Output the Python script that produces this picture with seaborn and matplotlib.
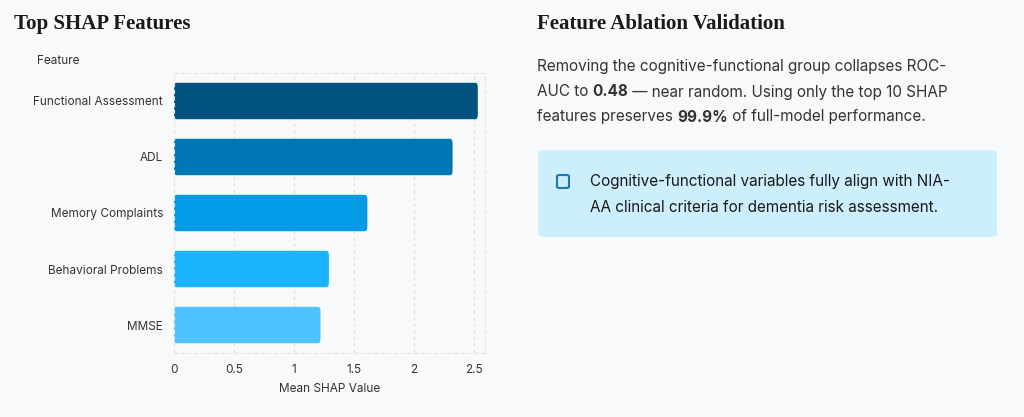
import seaborn as sns
import matplotlib.pyplot as plt
import pandas as pd
from matplotlib.patches import FancyBboxPatch

features = ["Functional Assessment", "ADL", "Memory Complaints", "Behavioral Problems", "MMSE"]
shap_values = [2.53, 2.32, 1.61, 1.29, 1.22]
bar_colors = ["#01537f", "#0077b5", "#039be5", "#1ab4fd", "#4fc3fe"]
ticks = [0, 0.5, 1, 1.5, 2, 2.5]
tick_labels = ["0", "0.5", "1", "1.5", "2", "2.5"]

df = pd.DataFrame({"Feature": features, "Mean SHAP Value": shap_values})

sns.set_style("white")
plt.rcParams["font.family"] = ["Inter", "DejaVu Sans"]

bg = "#f7f9fb"
fig = plt.figure(figsize=(10.24, 4.17), dpi=100, facecolor=bg)
ax = fig.add_axes([174 / 1024, 1 - 353 / 417, 311 / 1024, 280 / 417])
ax.set_facecolor(bg)

sns.barplot(data=df, y="Feature", x="Mean SHAP Value", hue="Feature",
            palette=bar_colors, legend=False, width=0.65, saturation=1, ax=ax)

# rounded bars
for p in list(ax.patches):
    x0, y0, w, h = p.get_x(), p.get_y(), p.get_width(), p.get_height()
    rb = FancyBboxPatch((x0, y0), w, h, boxstyle="round,pad=0,rounding_size=0.02",
                        mutation_aspect=h / 0.02 * 0.03 if False else 4,
                        facecolor=p.get_facecolor(), edgecolor="none", zorder=p.get_zorder())
    p.remove()
    ax.add_patch(rb)

ax.set_xlim(0, 2.59)
ax.set_xticks(ticks)
ax.set_xticklabels(tick_labels)
ax.grid(axis="x", color="#d9dde2", linestyle=(0, (3, 3)), linewidth=0.8)
ax.set_axisbelow(True)
for s in ax.spines.values():
    s.set_color("#e2e5e8")
    s.set_linestyle((0, (3, 3)))
    s.set_linewidth(0.8)
ax.tick_params(axis="both", length=0, labelsize=8.5, colors="#333333", pad=8)
ax.set_ylabel("")
ax.set_xlabel("Mean SHAP Value", fontsize=8.5, color="#333333", labelpad=5)

serif = ["Liberation Serif", "DejaVu Serif"]
fig.text(14 / 1024, 1 - 24 / 417, "Top SHAP Features", fontsize=15, fontweight="bold",
         family=serif, color="#1a1a1a", va="center")
fig.text(37 / 1024, 1 - 61 / 417, "Feature", fontsize=8.5, color="#333333", va="center")

fig.text(537 / 1024, 1 - 24 / 417, "Feature Ablation Validation", fontsize=15, fontweight="bold",
         family=serif, color="#1a1a1a", va="center")
lines = [
    [("Removing the cognitive-functional group collapses ROC-", "normal")],
    [("AUC to ", "normal"), ("0.48", "bold"), (" \u2014 near random. Using only the top 10 SHAP", "normal")],
    [("features preserves ", "normal"), ("99.9%", "bold"), (" of full-model performance.", "normal")],
]
fig.canvas.draw()
r = fig.canvas.get_renderer()
for i, segs in enumerate(lines):
    x = 537 / 1024
    y = 1 - (67 + 25 * i) / 417
    for txt, w in segs:
        t = fig.text(x, y, txt, fontsize=11, fontweight=w, color="#333333", va="center")
        bb = t.get_window_extent(renderer=r)
        x += bb.width / fig.bbox.width

box = FancyBboxPatch((538 / 1024, 1 - 237 / 417), 459 / 1024, 87 / 417,
                     boxstyle="round,pad=0,rounding_size=0.008", transform=fig.transFigure,
                     facecolor="#cdeefd", edgecolor="none")
fig.patches.append(box)
icon = FancyBboxPatch((557 / 1024, 1 - 188 / 417), 12 / 1024, 13 / 417,
                      boxstyle="round,pad=0,rounding_size=0.003", transform=fig.transFigure,
                      facecolor="none", edgecolor="#1a78b5", linewidth=1.5)
fig.patches.append(icon)
fig.text(590 / 1024, 1 - 182 / 417, "Cognitive-functional variables fully align with NIA-",
         fontsize=11, color="#1a1a1a", va="center")
fig.text(590 / 1024, 1 - 207 / 417, "AA clinical criteria for dementia risk assessment.",
         fontsize=11, color="#1a1a1a", va="center")

fig.savefig("out.png", dpi=100, facecolor=bg)
